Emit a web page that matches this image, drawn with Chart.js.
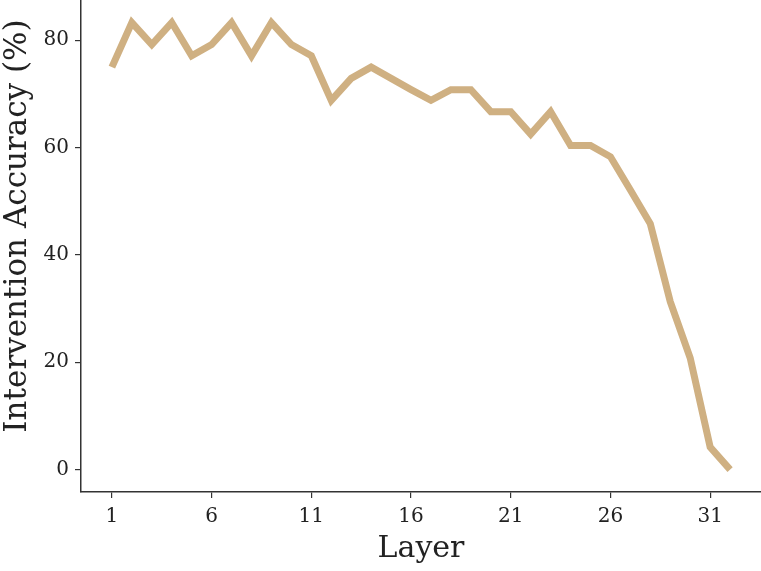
<!DOCTYPE html>
<html>
<head>
    <title>Intervention Accuracy by Layer</title>
    <script src="https://cdn.jsdelivr.net/npm/chart.js@4/dist/chart.umd.min.js"></script>
    <style>
        body { margin: 0; background: #fff; }
        #wrap { width: 761px; height: 571px; }
    </style>
</head>
<body>
<div id="wrap">
    <canvas id="layerChart" width="761" height="571"></canvas>
</div>

<script>
    // layers 1..32 and accuracy (%)
    const layers = [1, 2, 3, 4, 5, 6, 7, 8, 9, 10, 11, 12, 13, 14, 15, 16,
                    17, 18, 19, 20, 21, 22, 23, 24, 25, 26, 27, 28, 29, 30, 31, 32];
    const accuracy = [75.0, 83.3, 79.2, 83.3, 77.1, 79.2, 83.3, 77.1, 83.3, 79.2, 77.1, 68.8,
                      72.9, 75.0, 72.9, 70.8, 68.8, 70.8, 70.8, 66.7, 66.7, 62.5, 66.7, 60.4,
                      60.4, 58.3, 52.1, 45.8, 31.3, 20.8, 4.2, 0.0];
    const xTicks = [1, 6, 11, 16, 21, 26, 31];
    const yTicks = [0, 20, 40, 60, 80];
    const yTitle = 'Intervention Accuracy (%)';

    const serif = "'DejaVu Serif', 'Liberation Serif', serif";
    const axisColor = '#333333';

    const points = layers.map((l, i) => ({ x: l, y: accuracy[i] }));

    // drop the extra room Chart.js keeps for half-labels at the axis ends
    function noEdgePadding(scale) {
        scale.paddingTop = 0;
        scale.paddingBottom = 0;
        scale.paddingLeft = 0;
        scale.paddingRight = 0;
    }

    // y title sits a bit above the axis centre in the original (the figure is cropped at the top)
    const yTitlePlugin = {
        id: 'yTitle',
        afterDraw(chart) {
            const c = chart.ctx;
            c.save();
            c.translate(18, 226);
            c.rotate(-Math.PI / 2);
            c.font = '31px ' + serif;
            c.fillStyle = '#222';
            c.textAlign = 'center';
            c.textBaseline = 'middle';
            c.fillText(yTitle, 0, 0);
            c.restore();
        }
    };

    const ctx = document.getElementById('layerChart').getContext('2d');
    const chart = new Chart(ctx, {
        type: 'line',
        data: {
            datasets: [{
                data: points,
                borderColor: '#cfb082',
                borderWidth: 7,
                pointRadius: 0,
                fill: false,
                tension: 0,
                borderJoinStyle: 'miter',
                clip: false
            }]
        },
        plugins: [yTitlePlugin],
        options: {
            responsive: false,
            animation: false,
            layout: { padding: 0 },
            plugins: {
                legend: { display: false },
                tooltip: { enabled: false }
            },
            scales: {
                x: {
                    type: 'linear',
                    min: -0.55,
                    max: 33.55,
                    afterBuildTicks: (scale) => {
                        scale.ticks = xTicks.map(v => ({ value: v }));
                    },
                    afterFit: (scale) => {
                        scale.height = 79;
                        noEdgePadding(scale);
                    },
                    border: { display: true, color: axisColor, width: 1.5 },
                    grid: {
                        display: true,
                        drawOnChartArea: false,
                        drawTicks: true,
                        tickLength: 6,
                        color: axisColor,
                        lineWidth: 1.2
                    },
                    ticks: {
                        color: '#222',
                        padding: 7,
                        font: { family: serif, size: 20 }
                    },
                    title: {
                        display: true,
                        text: 'Layer',
                        color: '#222',
                        padding: { top: 0 },
                        font: { family: serif, size: 30 }
                    }
                },
                y: {
                    min: -4.17,
                    max: 87.5,
                    afterBuildTicks: (scale) => {
                        scale.ticks = yTicks.map(v => ({ value: v }));
                    },
                    afterFit: (scale) => {
                        scale.width = 81;
                        noEdgePadding(scale);
                    },
                    border: { display: true, color: axisColor, width: 1.5 },
                    grid: {
                        display: true,
                        drawOnChartArea: false,
                        drawTicks: true,
                        tickLength: 6,
                        color: axisColor,
                        lineWidth: 1.2
                    },
                    ticks: {
                        color: '#222',
                        padding: 6,
                        font: { family: serif, size: 20 }
                    },
                    title: { display: false }
                }
            }
        }
    });
</script>
</body>
</html>
